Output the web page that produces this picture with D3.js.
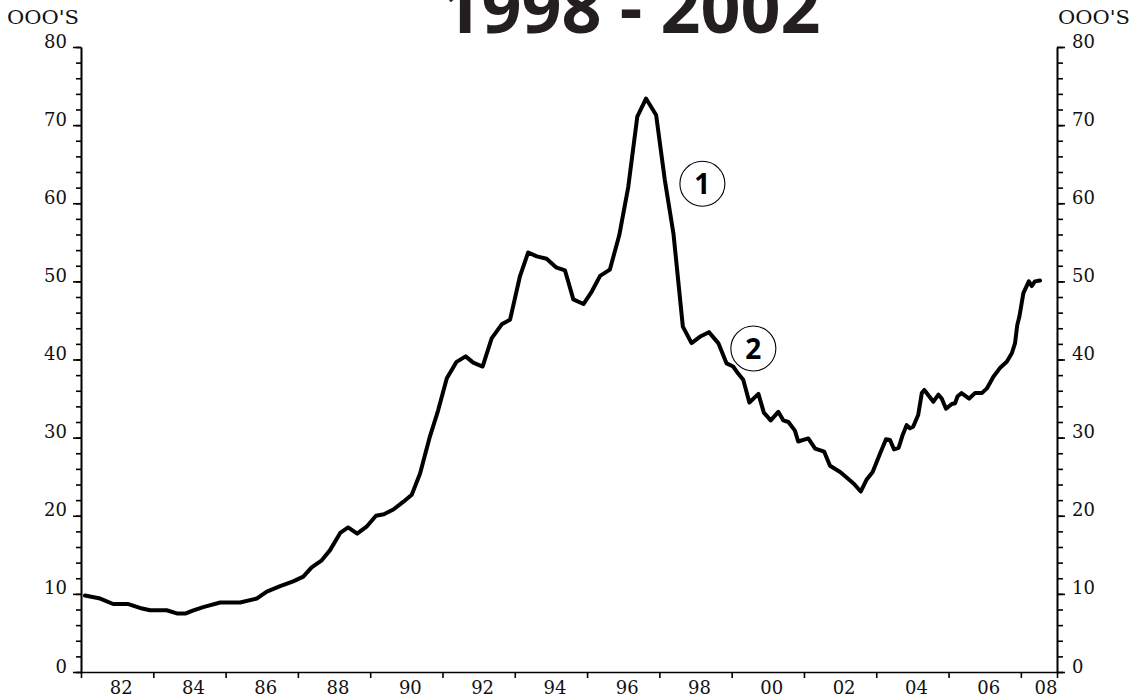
<!DOCTYPE html>
<html>
<head>
<meta charset="utf-8">
<script src="https://cdn.jsdelivr.net/npm/d3@7"></script>
<style>
  html, body { margin: 0; padding: 0; background: #fff; }
  svg { display: block; }
</style>
</head>
<body>
<div id="chart"></div>
<script>
// decimal year of each vertex of the line
var years = [
  1981.11, 1981.53, 1981.89, 1982.31, 1982.63, 1982.91, 1983.37, 1983.65, 1983.90,
  1984.11, 1984.38, 1984.85, 1985.40, 1985.86, 1986.14, 1986.51, 1986.87,
  1987.15, 1987.38, 1987.66, 1987.89, 1988.17, 1988.39, 1988.64, 1988.90,
  1989.16, 1989.38, 1989.64, 1989.92, 1990.15, 1990.38, 1990.65, 1990.88,
  1991.12, 1991.39, 1991.64, 1991.85, 1992.11, 1992.36, 1992.64, 1992.87,
  1993.14, 1993.37, 1993.61, 1993.88, 1994.14, 1994.39, 1994.62, 1994.90,
  1995.13, 1995.36, 1995.63, 1995.89, 1996.14, 1996.39, 1996.63, 1996.91,
  1997.15, 1997.39, 1997.65, 1997.89, 1998.12, 1998.37, 1998.63, 1998.86,
  1999.04, 1999.18, 1999.32, 1999.49, 1999.74, 1999.89, 2000.08, 2000.29,
  2000.43, 2000.57, 2000.75, 2000.84, 2001.12, 2001.31, 2001.56, 2001.72,
  2002.00, 2002.18, 2002.38, 2002.57, 2002.73, 2002.90, 2003.10, 2003.27,
  2003.38, 2003.49, 2003.62, 2003.72, 2003.84, 2003.93, 2004.02, 2004.16,
  2004.26, 2004.33, 2004.58, 2004.72, 2004.81, 2004.93, 2005.09, 2005.18,
  2005.25, 2005.36, 2005.57, 2005.73, 2005.92, 2006.06, 2006.24, 2006.42,
  2006.61, 2006.75, 2006.84, 2006.90, 2006.96, 2007.07, 2007.22, 2007.30,
  2007.39, 2007.53
];
// thousands
var values = [
  9.8, 9.4, 8.7, 8.7, 8.2, 7.9, 7.9, 7.5, 7.5,
  7.9, 8.3, 8.9, 8.9, 9.4, 10.3, 11.0, 11.6,
  12.2, 13.4, 14.3, 15.6, 17.8, 18.5, 17.7, 18.6,
  20.0, 20.2, 20.8, 21.8, 22.7, 25.4, 30.1, 33.5,
  37.6, 39.7, 40.4, 39.6, 39.1, 42.7, 44.5, 45.1,
  50.6, 53.7, 53.2, 52.9, 51.8, 51.4, 47.7, 47.1,
  48.7, 50.7, 51.5, 55.9, 62.1, 71.1, 73.4, 71.3,
  63.0, 56.1, 44.2, 42.1, 42.9, 43.5, 42.1, 39.5,
  39.1, 38.2, 37.4, 34.5, 35.6, 33.2, 32.2, 33.3,
  32.2, 32.0, 30.9, 29.5, 29.9, 28.6, 28.2, 26.4,
  25.6, 24.9, 24.1, 23.1, 24.6, 25.6, 27.9, 29.8,
  29.7, 28.5, 28.7, 30.2, 31.6, 31.2, 31.4, 32.9,
  35.7, 36.1, 34.6, 35.5, 35.0, 33.7, 34.3, 34.4,
  35.3, 35.7, 35.0, 35.7, 35.7, 36.3, 37.8, 38.9,
  39.7, 40.8, 42.1, 44.4, 45.5, 48.5, 50.0, 49.4,
  50.0, 50.1
];

var yMajorTicks = [0, 10, 20, 30, 40, 50, 60, 70, 80];
var yMinorTicks = d3.range(0, 81, 2);
var xTickYears = d3.range(1981, 2009, 2).concat([2008]);
var xLabelYears = d3.range(1982, 2009, 2);

var titleText = "1998 - 2002";
var unitText = "OOO'S";

// circled notes on the chart: [year, value, label]
var notes = [
  [1998.19, 62.5, "1"],
  [1999.60, 41.4, "2"]
];

var svgWidth = 1132, svgHeight = 700;
var margin = { top: 47, right: 75, bottom: 28, left: 81 };
var width = svgWidth - margin.left - margin.right;
var height = svgHeight - margin.top - margin.bottom;

var svg = d3.select("#chart").append("svg")
    .attr("width", svgWidth)
    .attr("height", svgHeight);

var g = svg.append("g")
    .attr("transform", `translate(${margin.left},${margin.top})`);

var x = d3.scaleLinear().domain([1981, 2008]).range([0, width]);
var y = d3.scaleLinear().domain([0, 80]).range([height, 0]);

var labelFont = "'DejaVu Serif', serif";

// left axis: minor then major ticks
g.append("g")
    .call(d3.axisLeft(y).tickValues(yMinorTicks).tickSize(5).tickFormat("").tickSizeOuter(0));
g.append("g")
    .attr("class", "yleft")
    .call(d3.axisLeft(y).tickValues(yMajorTicks).tickSize(8).tickPadding(6).tickSizeOuter(0));

// right axis
g.append("g")
    .attr("transform", `translate(${width},0)`)
    .call(d3.axisRight(y).tickValues(yMinorTicks).tickSize(6).tickFormat("").tickSizeOuter(0));
g.append("g")
    .attr("class", "yright")
    .attr("transform", `translate(${width},0)`)
    .call(d3.axisRight(y).tickValues(yMajorTicks).tickSize(8).tickPadding(7).tickSizeOuter(0));

// bottom axis, ticks only
g.append("g")
    .attr("transform", `translate(0,${height})`)
    .call(d3.axisBottom(x).tickValues(xTickYears).tickSize(6).tickFormat("").tickSizeOuter(0));

g.selectAll(".domain, .tick line")
    .attr("stroke", "#000")
    .attr("stroke-width", 1.6);

g.selectAll(".yleft text, .yright text")
    .attr("dy", 0)
    .attr("font-family", labelFont)
    .attr("font-size", 18)
    .attr("fill", "#111");

// year labels sit between the ticks
g.selectAll(".xlab")
    .data(xLabelYears)
    .enter()
    .append("text")
    .attr("class", "xlab")
    .attr("x", d => Math.min(x(d) + 4, width - 11))
    .attr("y", height + 22)
    .attr("text-anchor", "middle")
    .attr("font-family", labelFont)
    .attr("font-size", 18)
    .attr("fill", "#111")
    .text(d => String(d).slice(2));

// unit labels top left / top right
svg.append("text")
    .attr("x", 7).attr("y", 24)
    .attr("textLength", 72).attr("lengthAdjust", "spacingAndGlyphs")
    .attr("font-family", labelFont).attr("font-size", 18)
    .attr("fill", "#111")
    .text(unitText);
svg.append("text")
    .attr("x", 1058).attr("y", 24)
    .attr("textLength", 72).attr("lengthAdjust", "spacingAndGlyphs")
    .attr("font-family", labelFont).attr("font-size", 18)
    .attr("fill", "#111")
    .text(unitText);

// title, top partly cut off in the original
svg.append("text")
    .attr("x", 631).attr("y", 33)
    .attr("text-anchor", "middle")
    .attr("font-family", "'Open Sans', sans-serif")
    .attr("font-weight", 700)
    .attr("font-size", 70)
    .attr("fill", "#231f20")
    .text(titleText);

// the series
var series = years.map((yr, i) => ({ year: yr, value: values[i] }));
var line = d3.line()
    .x(d => x(d.year))
    .y(d => y(d.value));

g.append("path")
    .datum(series)
    .attr("fill", "none")
    .attr("stroke", "#000")
    .attr("stroke-width", 4)
    .attr("stroke-linejoin", "round")
    .attr("stroke-linecap", "round")
    .attr("d", line);

// circled numbers
var note = g.selectAll(".note")
    .data(notes)
    .enter()
    .append("g")
    .attr("class", "note")
    .attr("transform", d => `translate(${x(d[0])},${y(d[1])})`);

note.append("circle")
    .attr("r", 22.5)
    .attr("fill", "none")
    .attr("stroke", "#000")
    .attr("stroke-width", 1.1);

note.append("text")
    .attr("text-anchor", "middle")
    .attr("y", 10)
    .attr("font-family", "'Noto Sans', sans-serif")
    .attr("font-weight", 700)
    .attr("font-size", 28)
    .attr("fill", "#000")
    .text(d => d[2]);
</script>
</body>
</html>
